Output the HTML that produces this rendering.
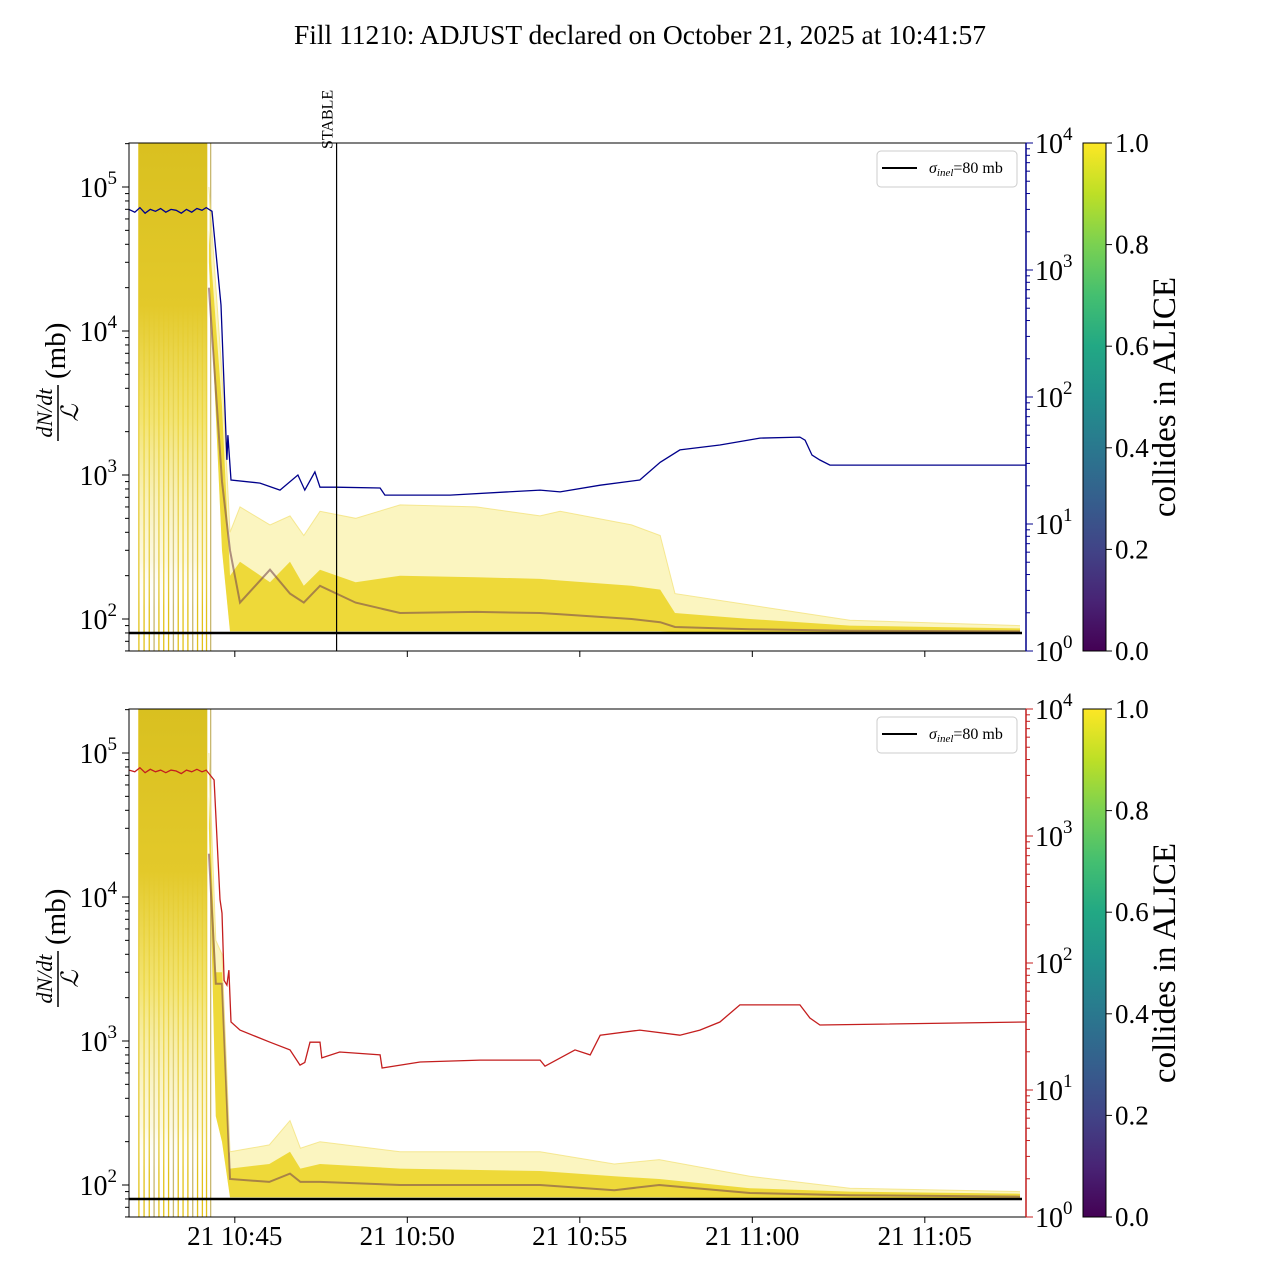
<!DOCTYPE html>
<html><head><meta charset="utf-8"><style>
body{margin:0;background:#fff}
svg text{font-family:"Liberation Serif","DejaVu Serif",serif;fill:#000}
</style></head><body>
<svg id="chart" width="1280" height="1280" xmlns="http://www.w3.org/2000/svg">
<defs>
<linearGradient id="viridis" x1="0" y1="1" x2="0" y2="0">
<stop offset="0" stop-color="#440154"/><stop offset="0.1" stop-color="#482475"/><stop offset="0.2" stop-color="#414487"/><stop offset="0.3" stop-color="#355f8d"/><stop offset="0.4" stop-color="#2a788e"/><stop offset="0.5" stop-color="#21918c"/><stop offset="0.6" stop-color="#22a884"/><stop offset="0.7" stop-color="#44bf70"/><stop offset="0.8" stop-color="#7ad151"/><stop offset="0.9" stop-color="#bddf26"/><stop offset="1" stop-color="#fde725"/>
</linearGradient>
<linearGradient id="earlyfade" x1="0" y1="0" x2="0" y2="1">
<stop offset="0" stop-color="#d9c020"/><stop offset="0.35" stop-color="#e3c92a"/><stop offset="0.6" stop-color="#f0dd50" stop-opacity="0.8"/><stop offset="0.9" stop-color="#f6ea9a" stop-opacity="0.3"/><stop offset="1" stop-color="#fff" stop-opacity="0"/>
</linearGradient>
<clipPath id="clipTop"><rect x="129" y="143" width="897" height="508"/></clipPath>
<clipPath id="clipBot"><rect x="129" y="709" width="897" height="508"/></clipPath>
</defs>
<text x="640" y="44" font-size="27.5" text-anchor="middle">Fill 11210: ADJUST declared on October 21, 2025 at 10:41:57</text>
</svg>
<script>
// ---- data (time in minutes after 10:40) ----
const xTickLabels=["21 10:45","21 10:50","21 10:55","21 11:00","21 11:05"];
const xTickTimes=[5,10,15,20,25];
const leftTickExp=[2,3,4,5];
const rightTickExp=[0,1,2,3,4];
const cbTicks=["0.0","0.2","0.4","0.6","0.8","1.0"];
const sigmaInel=80;
const stableTime=7.95;
const earlyLineTimes=[2.22,2.37,2.52,2.66,2.8,2.94,3.08,3.22,3.36,3.5,3.64,3.78,3.92,4.06,4.18,4.3];

const topBandT=[4.25,4.63,4.86,5.15,6.02,6.6,7.0,7.47,8.5,9.79,12,13.85,14.43,16.5,17.33,17.76,19.93,22.83,27.76];
const topUpper=[1e5,5000,400,600,450,520,380,560,500,620,600,520,560,450,380,150,125,98,90];
const topDense=[5e4,3000,200,250,180,250,170,220,180,200,195,190,185,170,160,110,100,90,86];
const topLower=[3e4,300,82,82,82,82,82,82,82,82,82,82,82,82,82,81,81,81,81];
const topMid=[2e4,900,300,130,220,150,130,170,130,110,112,110,108,100,95,88,85,83,82];

const botBandT=[4.25,4.45,4.63,4.86,6.0,6.6,6.9,7.47,9.79,13.85,16.0,17.3,19.93,22.83,27.76];
const botUpper=[1e5,5000,4000,170,190,280,180,200,170,170,140,150,115,95,90];
const botDense=[5e4,3000,3000,130,140,170,130,140,130,125,115,110,95,90,87];
const botLower=[3e4,300,200,82,82,82,82,82,82,82,82,82,81,81,81];
const botMid=[2e4,2500,2500,110,105,120,105,105,100,100,92,100,88,85,83];

const blueT=[1.933,2.1,2.25,2.4,2.55,2.7,2.85,3.0,3.15,3.3,3.45,3.6,3.75,3.9,4.05,4.17,4.34,4.6,4.77,4.8,4.89,5.73,6.31,6.83,7.03,7.32,7.47,7.93,9.21,9.35,11.24,13.85,14.43,15.59,16.74,17.33,17.9,19.06,20.22,21.38,21.53,21.73,21.96,22.25,27.93];
const blueV=[3000,2850,3100,2800,3000,2900,3050,2850,3000,2950,2800,3000,2850,3050,2950,3100,2900,530,32,50,22.2,21,18.5,24.3,18.5,25.7,19.5,19.5,19.2,16.9,16.9,18.5,17.9,20.2,22.2,30.6,38.3,41.9,47.5,48.3,45.7,34.9,31.9,29.1,29.1];
const redT=[1.933,2.1,2.25,2.4,2.55,2.7,2.85,3.0,3.15,3.3,3.45,3.6,3.75,3.9,4.05,4.17,4.4,4.57,4.63,4.69,4.77,4.83,4.89,5.15,6.02,6.6,6.89,7.03,7.18,7.47,7.52,8.04,9.21,9.27,10.37,12.11,13.85,13.99,14.86,15.3,15.59,16.74,17.9,18.48,19.06,19.64,21.38,21.67,21.96,27.93];
const redV=[3300,3200,3450,3150,3350,3200,3300,3150,3300,3250,3100,3300,3200,3350,3200,3300,2760,316,247,73,67,88,34.3,29.6,23.8,20.7,15.7,16.5,23.8,23.8,17.9,19.9,18.9,14.9,16.6,17.2,17.2,15.4,20.7,18.9,27,29.6,27,29.6,34.3,46.8,46.8,36.9,32.5,34.3];

// ---- helpers ----
const svg=document.getElementById('chart');
const NS='http://www.w3.org/2000/svg';
function mk(tag,attrs,parent){const e=document.createElementNS(NS,tag);for(const k in attrs)e.setAttribute(k,attrs[k]);(parent||svg).appendChild(e);return e;}
const X0=129,X1=1026;
function xs(t){return X0+(t-1.933)*34.5;}
function panelScales(top){
  const bottom=top+508;
  const base=top+476;
  return {top,bottom,
    yl:v=>base-144*(Math.log10(v)-2),
    yr:v=>bottom-127*Math.log10(v)};
}
function pathFrom(ts,vs,f){return ts.map((t,i)=>(i?'L':'M')+xs(t).toFixed(1)+','+f(vs[i]).toFixed(1)).join('');}
function bandPath(ts,up,lo,f){
  let d=pathFrom(ts,up,f);
  for(let i=ts.length-1;i>=0;i--)d+='L'+xs(ts[i]).toFixed(1)+','+f(lo[i]).toFixed(1);
  return d+'Z';
}

function drawPanel(idx,top,rColor,band,lineT,lineV){
  const s=panelScales(top);
  const g=mk('g',{'clip-path':'url(#'+(idx===0?'clipTop':'clipBot')+')'});
  
  
  earlyLineTimes.forEach((t,i)=>{
    const l=mk('line',{x1:xs(t),x2:xs(t),y1:s.top,y2:s.bottom,stroke:i%4===3?'#c8b870':'#e2c21a','stroke-width':1.3},g);
    
    
  });
  const eb=mk('rect',{x:xs(2.22),y:s.top,width:xs(4.2)-xs(2.22),height:(s.yl(120)-s.top),fill:'url(#earlyfade)'},g);
  
  
  const [bt,up,dn,lo,mid]=band;
  const p1=mk('path',{d:bandPath(bt,up,lo,s.yl),fill:'#f7ec8c','fill-opacity':0.55},g);
  
  
  const p2=mk('path',{d:bandPath(bt,dn,lo,s.yl),fill:'#ecd62a','fill-opacity':0.9},g);
  
  
  const p3=mk('path',{d:pathFrom(bt,mid,s.yl),fill:'none',stroke:'#7a4a50','stroke-width':2,'stroke-opacity':0.6},g);
  
  
  const p4=mk('path',{d:pathFrom(bt,up,s.yl),fill:'none',stroke:'#f2e070','stroke-width':1,'stroke-opacity':0.7},g);
  
  
  const sl=mk('line',{x1:X0,x2:1022,y1:s.yl(sigmaInel),y2:s.yl(sigmaInel),stroke:'#000','stroke-width':2.5},g);
  
  
  const rl=mk('path',{d:pathFrom(lineT,lineV,s.yr),fill:'none',stroke:rColor,'stroke-width':1.3},g);
  
  
  if(idx===0){
    const st=mk('line',{x1:xs(stableTime),x2:xs(stableTime),y1:s.top,y2:s.bottom,stroke:'#000','stroke-width':1.2});
    
    
    const tx=mk('text',{x:0,y:0,'font-size':16,transform:'translate('+(xs(stableTime)-4)+','+(s.top+6)+') rotate(-90)'});
    tx.textContent='STABLE';
    
    
  }
  const fr=mk('rect',{x:X0,y:s.top,width:X1-X0,height:508,fill:'none',stroke:'#000','stroke-width':1});
  
  
  const rs=mk('line',{x1:X1,x2:X1,y1:s.top,y2:s.bottom,stroke:rColor,'stroke-width':1.5});
  
  
  for(let e=1;e<=5;e++)for(let m=1;m<10;m++){
    const v=m*Math.pow(10,e),y=s.yl(v);
    if(y<s.top||y>s.bottom)continue;
    mk('line',{x1:X0-(m===1?7:4),x2:X0,y1:y,y2:y,stroke:'#000','stroke-width':1});
  }
  leftTickExp.forEach(e=>{
    const t=mk('text',{x:X0-12,y:s.yl(Math.pow(10,e))+10,'font-size':28,'text-anchor':'end'});
    t.innerHTML='10<tspan dy="-13" font-size="19">'+e+'</tspan>';
    
    
  });
  for(let e=0;e<4;e++)for(let m=1;m<10;m++){
    const y=s.yr(m*Math.pow(10,e));
    mk('line',{x1:X1,x2:X1+(m===1?7:4),y1:y,y2:y,stroke:rColor,'stroke-width':1});
  }
  mk('line',{x1:X1,x2:X1+7,y1:s.top,y2:s.top,stroke:rColor});
  rightTickExp.forEach(e=>{
    const t=mk('text',{x:X1+9,y:s.yr(Math.pow(10,e))+10,'font-size':28,fill:rColor});
    t.innerHTML='10<tspan dy="-13" font-size="19">'+e+'</tspan>';
    t.setAttribute('fill',rColor);
    
    
  });
  xTickTimes.forEach((t,i)=>{
    mk('line',{x1:xs(t),x2:xs(t),y1:s.bottom,y2:s.bottom+6,stroke:'#000'});
    if(idx===1){
      const tl=mk('text',{x:xs(t),y:s.bottom+28,'font-size':27,'text-anchor':'middle'});
      tl.textContent=xTickLabels[i];
      
      
    }
  });
  const yg=mk('g',{transform:'translate(60,'+(s.top+270)+') rotate(-90)'});
  
  
  const a=mk('text',{x:0,y:-8,'font-size':22,'font-style':'italic','text-anchor':'middle'},yg);a.textContent='dN/dt';
  mk('line',{x1:-28,x2:28,y1:-2,y2:-2,stroke:'#000','stroke-width':1.5},yg);
  const b=mk('text',{x:0,y:18,'font-size':24,'font-style':'italic','text-anchor':'middle'},yg);b.textContent='ℒ';
  const c=mk('text',{x:34,y:5,'font-size':29},yg);c.textContent='(mb)';
  const lg=mk('g',{});
  
  
  mk('rect',{x:877,y:s.top+8,width:140,height:36,rx:4,fill:'#fff',stroke:'#ccc'},lg);
  mk('line',{x1:882,x2:917,y1:s.top+25,y2:s.top+25,stroke:'#000','stroke-width':2},lg);
  const lt=mk('text',{x:929,y:s.top+30,'font-size':16},lg);
  lt.innerHTML='<tspan font-style="italic">σ</tspan><tspan font-size="11" font-style="italic" dy="3">inel</tspan><tspan dy="-3">=80 mb</tspan>';
  const cb=mk('rect',{x:1083,y:s.top,width:23,height:508,fill:'url(#viridis)',stroke:'#000','stroke-width':1});
  
  
  cbTicks.forEach((lab,i)=>{
    const y=s.bottom-i*508/5;
    mk('line',{x1:1106,x2:1112,y1:y,y2:y,stroke:'#000'});
    const t=mk('text',{x:1115,y:y+9,'font-size':27});t.textContent=lab;
    
    
  });
  const ct=mk('text',{x:0,y:0,'font-size':33,'text-anchor':'middle',transform:'translate(1175,'+(s.top+254)+') rotate(-90)'});
  ct.textContent='collides in ALICE';
  
  
}
drawPanel(0,143,'#00008b',[topBandT,topUpper,topDense,topLower,topMid],blueT,blueV);
drawPanel(1,709,'#c41e1e',[botBandT,botUpper,botDense,botLower,botMid],redT,redV);
</script>
</body></html>
